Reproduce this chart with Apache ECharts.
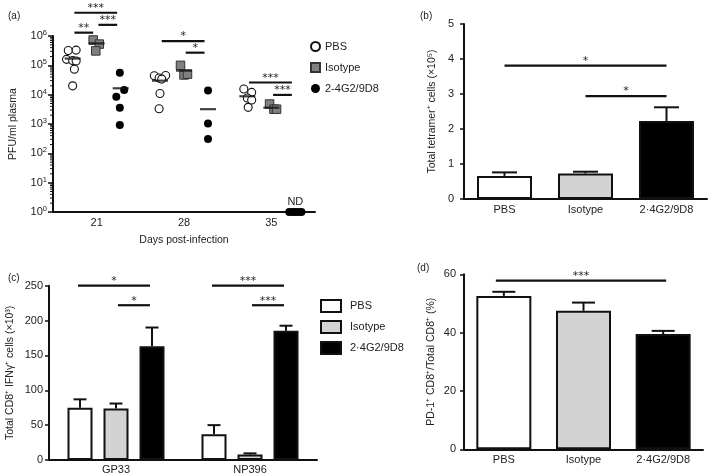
<!DOCTYPE html>
<html><head><meta charset="utf-8">
<script src="https://cdn.jsdelivr.net/npm/echarts@6/dist/echarts.min.js"></script>
<style>html,body{margin:0;padding:0;background:#fff}#c{width:709px;height:476px}</style>
</head><body><div id="c"></div>
<script>
// ---------------- DATA ----------------
// (a) plasma viral titres (PFU/ml), per day, per group
const days = ['21', '28', '35'];
const pfuPBS = [[3.2e5, 3.3e5, 1.6e5, 1.45e5, 1.4e5, 7.4e4, 2.0e4],
                [4.4e4, 3.7e4, 4.5e4, 3.4e4, 1.1e4, 3.3e3],
                [1.56e4, 1.2e4, 7.7e3, 6.6e3, 3.7e3]];
const pfuIso = [[7.3e5, 5.3e5, 3.1e5],
                [1.0e5, 4.7e4, 5.0e4],
                [4.8e3, 3.2e3, 3.2e3]];
const pfuAb  = [[5.6e4, 1.45e4, 8.5e3, 3.6e3, 9.3e2],
                [1.4e4, 1.05e3, 3.1e2],
                ['ND', 'ND', 'ND', 'ND', 'ND']];
const pfuMean = [[1.7e5, 5.6e5, 1.65e4],
                 [3.0e4, 6.6e4, 3.2e3],
                 [8.8e3, 3.6e3, null]];
// horizontal scatter (jitter) of the dots (axis units)
const jitPBS = [[-0.05, 0.04, -0.07, 0.0, 0.04, 0.02, 0.0],
                [-0.065, -0.01, 0.065, 0.02, 0.0, -0.01],
                [-0.04, 0.05, 0.0, 0.05, 0.01]];
const jitIso = [[-0.04, 0.03, -0.01], [-0.04, 0.0, 0.04], [-0.02, 0.03, 0.06]];
const jitAb  = [[-0.01, 0.04, -0.05, -0.01, -0.01], [0, 0, 0], [-0.07, -0.035, 0, 0.035, 0.07]];
const pfuTicks = [1, 10, 100, 1e3, 1e4, 1e5, 1e6];
const minorMultiples = [2, 3, 4, 5, 6, 7, 8, 9];
// significance brackets (a): [day index, from group, to group, height, stars]
const sigA = [[0, 0, 2, 6.2e6, '***'], [0, 0, 1, 1.3e6, '**'], [0, 1, 2, 2.4e6, '***'],
              [1, 0, 2, 6.7e5, '*'], [1, 1, 2, 2.7e5, '*'],
              [2, 0, 2, 2.6e4, '***'], [2, 1, 2, 9.8e3, '***']];

// (b) total tetramer+ cells (x10^5)
const groupsB = ['PBS', 'Isotype', '2·4G2/9D8'];
const tetMean = [0.66, 0.73, 2.23];
const tetUpper = [0.76, 0.78, 2.62];
const sigB = [[0, 2, 3.81, '*'], [1, 2, 2.94, '*']];

// (c) total CD8+ IFNg+ cells (x10^3)
const epitopes = ['GP33', 'NP396'];
const ifnPBS = [75, 37];
const ifnIso = [74, 8];
const ifnAb = [163, 185.5];
const ifnPBSUp = [87, 50];
const ifnIsoUp = [81, 9.5];
const ifnAbUp = [190, 192.6];
const sigC = [[0, 0, 2, 250, '*'], [0, 1, 2, 222, '*'], [1, 0, 2, 250, '***'], [1, 1, 2, 222, '***']];

// (d) PD-1+ CD8+ / total CD8+ (%)
const pd1Mean = [52.6, 47.5, 39.5];
const pd1Upper = [54, 50.3, 40.6];
const sigD = [[0, 2, 57.8, '***']];

// ---------------- STYLE ----------------
const FONT = 'Liberation Sans, Arial, Helvetica, sans-serif';
const STARFONT = '11px DejaVu Sans, sans-serif';
const INK = '#111';
const TXT = '#222';
const fills = ['#ffffff', '#d3d3d3', '#000000'];
const groupOff = [-0.275, 0, 0.275];   // panel (a) group offsets within a day
const cBarW = 25, cGap = 11;           // panel (c) bar width / gap (px)

const chart = echarts.init(document.getElementById('c'));

function ptsA(vals, jit, g) {
  const out = [];
  vals.forEach((arr, i) => arr.forEach((v, k) => {
    const nd = v === 'ND';
    const item = { value: [i + 0.5 + groupOff[g] + jit[i][k], nd ? pfuTicks[0] : v] };
    if (nd && k === Math.floor(arr.length / 2)) {
      item.label = { show: true, formatter: 'ND', position: 'top', distance: 1,
        fontSize: 11, color: TXT, fontFamily: FONT };
    }
    out.push(item);
  }));
  return out;
}
const meanA = [];
pfuMean.forEach((row, i) => row.forEach((m, g) => { if (m != null) meanA.push([i + 0.5 + groupOff[g], m]); }));
const minorA = [];
pfuTicks.slice(0, -1).forEach(t => minorMultiples.forEach(m => minorA.push([0, t * m])));

function sigRender(labels, offFn) {
  return function (params, api) {
    const y = api.value(2);
    const p1 = api.coord([api.value(0), y]);
    const p2 = api.coord([api.value(1), y]);
    const o = offFn ? offFn(params.dataIndex) : [0, 0];
    const x1 = p1[0] + o[0], x2 = p2[0] + o[1];
    return { type: 'group', children: [
      { type: 'line', shape: { x1: x1, y1: p1[1], x2: x2, y2: p1[1] },
        style: { stroke: INK, lineWidth: 2.2 } },
      { type: 'text', x: (x1 + x2) / 2, y: p1[1] + 1,
        style: { text: labels[params.dataIndex], fill: TXT, font: STARFONT,
          textAlign: 'center', textVerticalAlign: 'bottom' } }
    ]};
  };
}
function errRender(capW, offPx) {
  return function (params, api) {
    const p0 = api.coord([api.value(0), api.value(1)]);
    const p1 = api.coord([api.value(0), api.value(2)]);
    const x = p0[0] + (offPx || 0);
    return { type: 'group', children: [
      { type: 'line', shape: { x1: x, y1: p0[1], x2: x, y2: p1[1] }, style: { stroke: INK, lineWidth: 2 } },
      { type: 'line', shape: { x1: x - capW / 2, y1: p1[1], x2: x + capW / 2, y2: p1[1] }, style: { stroke: INK, lineWidth: 2 } }
    ]};
  };
}
function minorTickRender(params, api) {
  const p = api.coord([api.value(0), api.value(1)]);
  return { type: 'line', shape: { x1: p[0] - 3, y1: p[1], x2: p[0], y2: p[1] }, style: { stroke: INK, lineWidth: 1 } };
}

const axisLine = { show: true, lineStyle: { color: INK, width: 2 } };
const yTick = { show: true, length: 4, lineStyle: { color: INK, width: 1.5 } };
const lbl = { color: TXT, fontSize: 11, fontFamily: FONT };
const nameStyle = { color: TXT, fontSize: 10.5, fontFamily: FONT };

const option = {
  animation: false,
  backgroundColor: '#fff',
  textStyle: { fontFamily: FONT },
  title: [
    { text: '(a)', left: 3, top: 6 }, { text: '(b)', left: 415, top: 6 },
    { text: '(c)', left: 3, top: 268 }, { text: '(d)', left: 412, top: 258 }
  ].map(t => Object.assign(t, { textStyle: { fontSize: 10, fontWeight: 'normal', color: TXT, fontFamily: FONT } })),
  grid: [
    { left: 53, top: 36, width: 262, height: 176 },
    { left: 464, top: 24, width: 243, height: 175 },
    { left: 49, top: 285.7, width: 268, height: 174.3 },
    { left: 464, top: 274.3, width: 239, height: 175 }
  ],
  legend: [
    { data: ['PBS', 'Isotype', '2-4G2/9D8'], orient: 'vertical', left: 305, top: 36,
      itemWidth: 9, itemHeight: 9, itemGap: 10, textStyle: { fontSize: 11, color: TXT, fontFamily: FONT } },
    { data: ['PBS_c', 'Isotype_c', 'Ab_c'], orient: 'vertical', left: 315, top: 294, icon: 'rect',
      itemWidth: 20, itemHeight: 12, itemGap: 7,
      formatter: n => ({ PBS_c: 'PBS', Isotype_c: 'Isotype', Ab_c: '2·4G2/9D8' })[n],
      textStyle: { fontSize: 11, color: TXT, fontFamily: FONT, padding: [0, 0, 0, 4] } }
  ],
  xAxis: [
    { type: 'category', gridIndex: 0, data: days, axisLine: axisLine, axisTick: { show: false },
      axisLabel: Object.assign({ margin: 5 }, lbl), name: 'Days post-infection', nameLocation: 'middle',
      nameGap: 23, nameTextStyle: nameStyle },
    { type: 'value', gridIndex: 0, min: 0, max: 3, show: false },
    { type: 'category', gridIndex: 1, data: groupsB, axisLine: axisLine, axisTick: { show: false },
      axisLabel: Object.assign({ margin: 5 }, lbl) },
    { type: 'category', gridIndex: 2, data: epitopes, axisLine: axisLine, axisTick: { show: false },
      axisLabel: Object.assign({ margin: 4 }, lbl) },
    { type: 'category', gridIndex: 3, data: groupsB, axisLine: axisLine, axisTick: { show: false },
      axisLabel: Object.assign({ margin: 5 }, lbl) }
  ],
  yAxis: [
    { type: 'log', gridIndex: 0, logBase: 10, min: pfuTicks[0], max: pfuTicks[pfuTicks.length - 1], splitNumber: 6,
      axisLine: axisLine, axisTick: { show: true, length: 5, lineStyle: { color: INK, width: 1.5 } },
      splitLine: { show: false },
      axisLabel: { margin: 6, formatter: v => '{b|10}{s|' + Math.round(Math.log10(v)) + '}',
        rich: { b: { fontSize: 11, color: TXT, fontFamily: FONT, lineHeight: 14 },
                s: { fontSize: 7.5, color: TXT, fontFamily: FONT, verticalAlign: 'top' } } },
      name: 'PFU/ml plasma', nameLocation: 'middle', nameGap: 34, nameTextStyle: nameStyle },
    { type: 'value', gridIndex: 1, min: 0, max: 5, interval: 1, axisLine: axisLine, axisTick: yTick,
      splitLine: { show: false }, axisLabel: Object.assign({ margin: 10 }, lbl),
      name: 'Total tetramer⁺ cells (×10⁵)', nameLocation: 'middle', nameGap: 26, nameTextStyle: nameStyle },
    { type: 'value', gridIndex: 2, min: 0, max: 250, interval: 50, axisLine: axisLine, axisTick: yTick,
      splitLine: { show: false }, axisLabel: Object.assign({ margin: 6 }, lbl),
      name: 'Total CD8⁺ IFNγ⁺ cells (×10³)', nameLocation: 'middle', nameGap: 33, nameTextStyle: nameStyle },
    { type: 'value', gridIndex: 3, min: 0, max: 60, interval: 20, axisLine: axisLine, axisTick: yTick,
      splitLine: { show: false }, axisLabel: Object.assign({ margin: 8 }, lbl),
      name: 'PD-1⁺ CD8⁺/Total CD8⁺ (%)', nameLocation: 'middle', nameGap: 27, nameTextStyle: nameStyle }
  ],
  series: [
    // ---- (a)
    { type: 'custom', xAxisIndex: 1, yAxisIndex: 0, clip: false, silent: true,
      dimensions: ['x', 'y'], encode: { x: 'x', y: 'y' }, data: minorA, renderItem: minorTickRender },
    { name: 'PBS', type: 'scatter', xAxisIndex: 1, yAxisIndex: 0, symbol: 'circle', symbolSize: 8,
      itemStyle: { color: '#fff', borderColor: INK, borderWidth: 1.1, opacity: 1 }, data: ptsA(pfuPBS, jitPBS, 0) },
    { name: 'Isotype', type: 'scatter', xAxisIndex: 1, yAxisIndex: 0, symbol: 'rect', symbolSize: 8.5,
      itemStyle: { color: '#808080', borderColor: '#333', borderWidth: 1, opacity: 1 }, data: ptsA(pfuIso, jitIso, 1) },
    { name: '2-4G2/9D8', type: 'scatter', xAxisIndex: 1, yAxisIndex: 0, symbol: 'circle', symbolSize: 8,
      itemStyle: { color: '#000', opacity: 1 }, data: ptsA(pfuAb, jitAb, 2), clip: false },
    { name: 'mean', type: 'scatter', xAxisIndex: 1, yAxisIndex: 0, symbol: 'rect', symbolSize: [16, 2.2], z: 5,
      itemStyle: { color: INK }, data: meanA },
    { type: 'custom', xAxisIndex: 1, yAxisIndex: 0, clip: false, z: 6,
      dimensions: ['x1', 'x2', 'y'], encode: { x: ['x1', 'x2'], y: 'y' },
      data: sigA.map(s => [s[0] + 0.5 + groupOff[s[1]] + 0.02, s[0] + 0.5 + groupOff[s[2]] - 0.04, s[3]]),
      renderItem: sigRender(sigA.map(s => s[4])) },
    // ---- (b)
    { type: 'bar', xAxisIndex: 2, yAxisIndex: 1, barWidth: 55,
      itemStyle: { borderColor: INK, borderWidth: 2 },
      data: tetMean.map((v, i) => ({ value: v, itemStyle: { color: fills[i] } })) },
    { type: 'custom', xAxisIndex: 2, yAxisIndex: 1, clip: false, z: 4,
      dimensions: ['x', 'lo', 'hi'], encode: { x: 'x', y: ['lo', 'hi'] },
      data: tetMean.map((m, i) => [i, m, tetUpper[i]]), renderItem: errRender(25) },
    { type: 'custom', xAxisIndex: 2, yAxisIndex: 1, clip: false, z: 4,
      dimensions: ['x1', 'x2', 'y'], encode: { x: ['x1', 'x2'], y: 'y' },
      data: sigB.map(s => [s[0], s[1], s[2]]), renderItem: sigRender(sigB.map(s => s[3])) },
    // ---- (c)
    ...[[ifnPBS, ifnPBSUp, 'PBS_c'], [ifnIso, ifnIsoUp, 'Isotype_c'], [ifnAb, ifnAbUp, 'Ab_c']].map((d, g) => (
      { name: d[2], type: 'bar', xAxisIndex: 3, yAxisIndex: 2, barWidth: cBarW, barGap: '44%',
        itemStyle: { color: fills[g], borderColor: INK, borderWidth: 2 }, data: d[0] })),
    ...[[ifnPBS, ifnPBSUp], [ifnIso, ifnIsoUp], [ifnAb, ifnAbUp]].map((d, g) => (
      { type: 'custom', xAxisIndex: 3, yAxisIndex: 2, clip: false, z: 4,
        dimensions: ['x', 'lo', 'hi'], encode: { x: 'x', y: ['lo', 'hi'] },
        data: d[0].map((m, i) => [i, m, d[1][i]]), renderItem: errRender(13, (g - 1) * (cBarW + cGap)) })),
    { type: 'custom', xAxisIndex: 3, yAxisIndex: 2, clip: false, z: 4,
      dimensions: ['x1', 'x2', 'y'], encode: { x: ['x1', 'x2'], y: 'y' },
      data: sigC.map(s => [s[0], s[0], s[3]]),
      renderItem: sigRender(sigC.map(s => s[4]),
        i => [(sigC[i][1] - 1) * (cBarW + cGap) + (sigC[i][1] === 0 ? -2 : 2), (sigC[i][2] - 1) * (cBarW + cGap) - 2]) },
    // ---- (d)
    { type: 'bar', xAxisIndex: 4, yAxisIndex: 3, barWidth: 55,
      itemStyle: { borderColor: INK, borderWidth: 2 },
      data: pd1Mean.map((v, i) => ({ value: v, itemStyle: { color: fills[i] } })) },
    { type: 'custom', xAxisIndex: 4, yAxisIndex: 3, clip: false, z: 4,
      dimensions: ['x', 'lo', 'hi'], encode: { x: 'x', y: ['lo', 'hi'] },
      data: pd1Mean.map((m, i) => [i, m, pd1Upper[i]]), renderItem: errRender(23) },
    { type: 'custom', xAxisIndex: 4, yAxisIndex: 3, clip: false, z: 4,
      dimensions: ['x1', 'x2', 'y'], encode: { x: ['x1', 'x2'], y: 'y' },
      data: sigD.map(s => [s[0], s[1], s[2]]), renderItem: sigRender(sigD.map(s => s[3]), () => [-8, 3]) }
  ]
};
chart.setOption(option);
</script>
</body></html>
